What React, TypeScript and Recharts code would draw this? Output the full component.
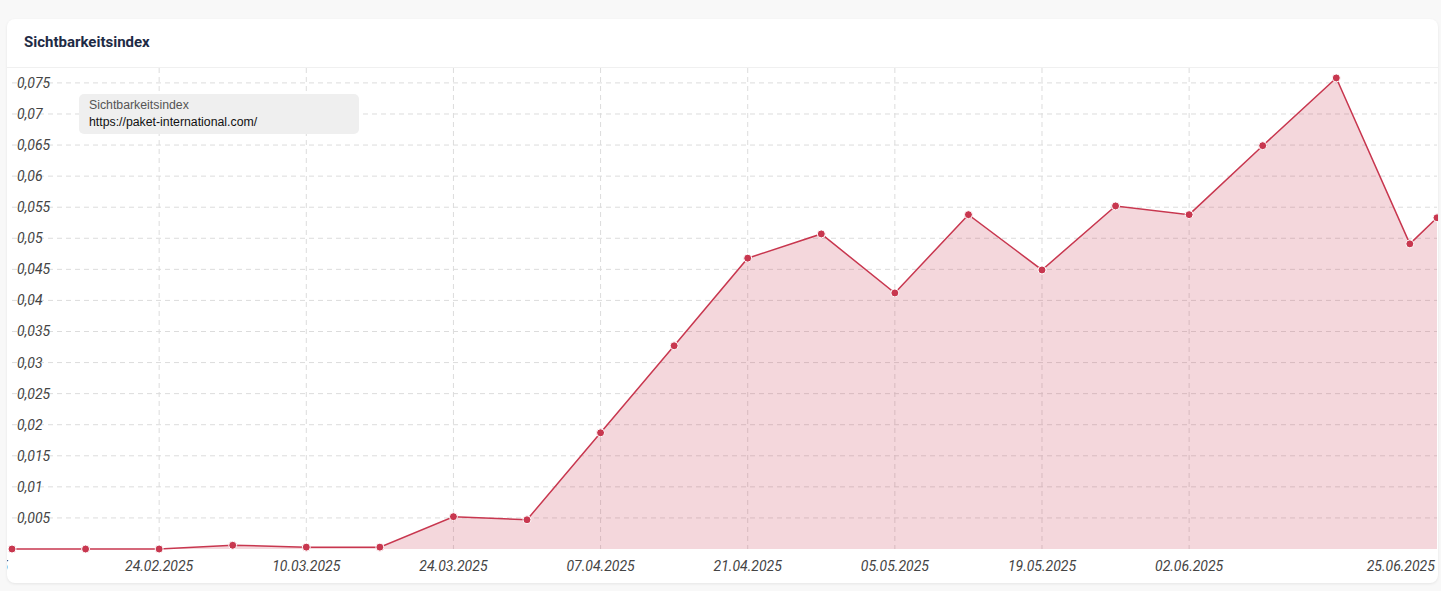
import React from "react";
import { AreaChart, Area, XAxis, YAxis, CartesianGrid } from "recharts";

// weekly values, last point is the current (partial) day
const dates = [
  "2025-02-10", "2025-02-17", "2025-02-24", "2025-03-03", "2025-03-10",
  "2025-03-17", "2025-03-24", "2025-03-31", "2025-04-07", "2025-04-14",
  "2025-04-21", "2025-04-28", "2025-05-05", "2025-05-12", "2025-05-19",
  "2025-05-26", "2025-06-02", "2025-06-09", "2025-06-16", "2025-06-23",
  "2025-06-25T14:00:00Z",
];
const values = [
  0, 0, 0, 0.0006, 0.0003, 0.0003, 0.0052, 0.0047, 0.0187, 0.0327,
  0.0468, 0.0507, 0.0412, 0.0538, 0.0449, 0.0552, 0.0538, 0.0649, 0.0758,
  0.0491, 0.0533,
];
const xTickDates = [
  "2025-02-10", "2025-02-24", "2025-03-10", "2025-03-24", "2025-04-07",
  "2025-04-21", "2025-05-05", "2025-05-19", "2025-06-02", "2025-06-25",
];
const yTicks = [
  0, 0.005, 0.01, 0.015, 0.02, 0.025, 0.03, 0.035, 0.04, 0.045, 0.05,
  0.055, 0.06, 0.065, 0.07, 0.075,
];

const seriesName = "Sichtbarkeitsindex";
const domainUrl = "https://paket-international.com/";

const data = dates.map((d, i) => ({ t: Date.parse(d), value: values[i] }));
const xTicks = xTickDates.map((d) => Date.parse(d));

const LINE = "#c8374f";
const AXIS_FONT = "Roboto, 'Noto Sans', sans-serif";

const fmtDate = (t: number) => {
  const d = new Date(t);
  const dd = String(d.getUTCDate()).padStart(2, "0");
  const mm = String(d.getUTCMonth() + 1).padStart(2, "0");
  return `${dd}.${mm}.${d.getUTCFullYear()}`;
};

const XTick = (props: any) => {
  const { x, y, payload, index } = props;
  const last = index === xTicks.length - 1;
  const first = index === 0;
  return (
    <text
      x={first ? x - 4 : last ? x + 4 : x}
      y={y}
      dy={14}
      textAnchor={first || last ? "end" : "middle"}
      fill="#444"
      fontSize={14}
      fontStyle="italic"
      fontFamily={AXIS_FONT}
    >
      {fmtDate(payload.value)}
    </text>
  );
};

const YTick = (props: any) => {
  const { y, payload } = props;
  if (payload.value === 0) return null;
  return (
    <text
      x={10}
      y={y}
      dy={5}
      textAnchor="start"
      fill="#444"
      fontSize={14}
      fontStyle="italic"
      fontFamily={AXIS_FONT}
    >
      {String(payload.value).replace(".", ",")}
    </text>
  );
};

export default function App() {
  return (
    <div
      style={{
        position: "fixed",
        left: 0,
        top: 0,
        width: 1441,
        height: 591,
        background: "#f8f8f8",
        overflow: "hidden",
      }}
    >
      <div
        style={{
          position: "absolute",
          left: 7,
          top: 19,
          width: 1431,
          height: 564,
          background: "#fff",
          borderRadius: 8,
          boxShadow: "0 1px 3px rgba(0,0,0,0.08)",
          overflow: "hidden",
        }}
      >
        {/* Header */}
        <div
          style={{
            position: "absolute",
            left: 17,
            top: 14,
            fontFamily: "Roboto, sans-serif",
            fontWeight: 700,
            fontSize: 15,
            color: "#1e2b45",
          }}
        >
          {seriesName}
        </div>
        <div
          style={{
            position: "absolute",
            left: 0,
            right: 0,
            top: 48,
            height: 1,
            background: "#f0f0f0",
          }}
        />

        <div style={{ position: "absolute", left: 0, top: 0 }}>
          <AreaChart
            width={1431}
            height={564}
            data={data}
            margin={{ top: 49, left: 4, right: 1, bottom: 4 }}
          >
            <CartesianGrid
              stroke="#dcdcdc"
              strokeDasharray="5 4"
              horizontalValues={yTicks.slice(1)}
              verticalValues={xTicks.slice(1, -1)}
            />
            <XAxis
              dataKey="t"
              type="number"
              scale="linear"
              domain={["dataMin", "dataMax"]}
              ticks={xTicks}
              tick={<XTick />}
              axisLine={false}
              tickLine={false}
              height={30}
              interval={0}
            />
            <YAxis
              width={1}
              domain={[0, 0.0774]}
              ticks={yTicks}
              tick={<YTick />}
              axisLine={false}
              tickLine={false}
              interval={0}
            />
            <Area
              type="linear"
              dataKey="value"
              stroke={LINE}
              strokeWidth={1.5}
              fill={LINE}
              fillOpacity={0.2}
              dot={{ r: 4, fill: LINE, stroke: "#fff", strokeWidth: 1, fillOpacity: 1 }}
              activeDot={false}
              isAnimationActive={false}
            />
          </AreaChart>
        </div>

        {/* Legend box */}
        <div
          style={{
            position: "absolute",
            left: 72,
            top: 75,
            width: 280,
            height: 40,
            background: "#efefef",
            borderRadius: 5,
            fontFamily: "'Liberation Sans', Arial, sans-serif",
            fontSize: 12.3,
            lineHeight: "17px",
            padding: "3px 10px",
            boxSizing: "border-box",
          }}
        >
          <div style={{ color: "#555" }}>{seriesName}</div>
          <div style={{ color: "#111" }}>{domainUrl}</div>
        </div>
      </div>
    </div>
  );
}
